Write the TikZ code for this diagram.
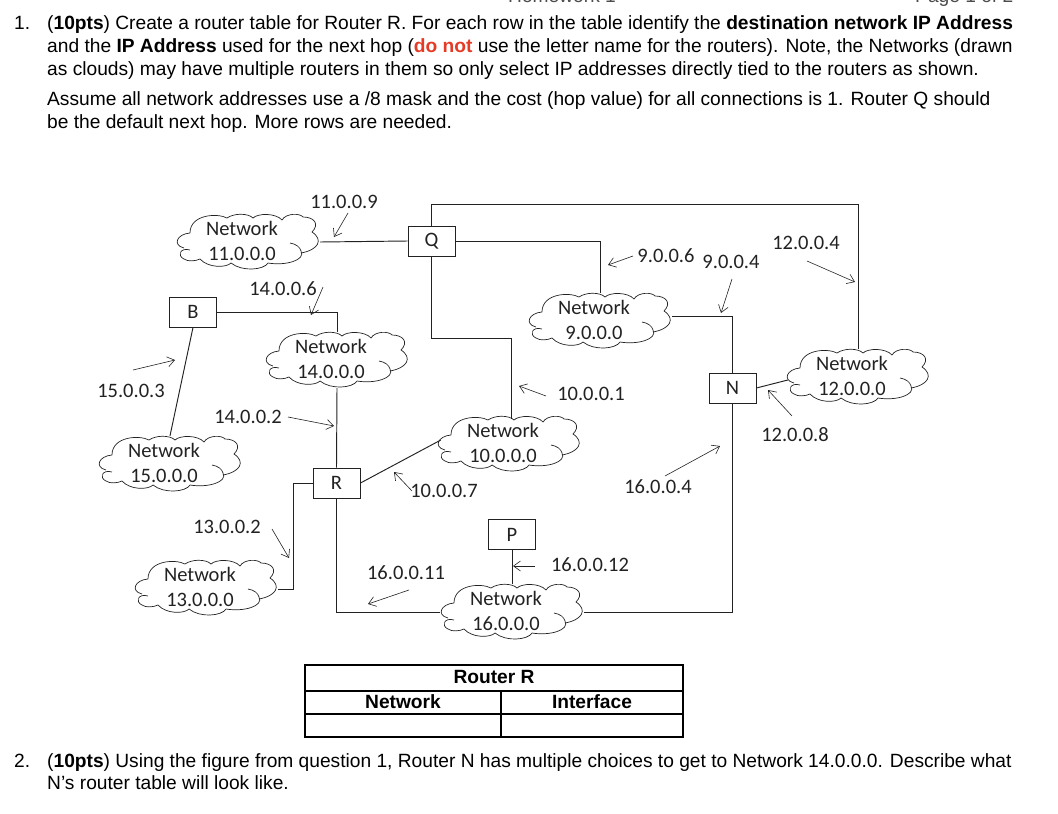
\documentclass[tikz,border=0pt]{standalone}
\usepackage{fontspec}
\usetikzlibrary{arrows.meta}
\setmainfont{Liberation Sans}
\newfontfamily\diagfont{Carlito}
\definecolor{redword}{HTML}{E53B26}
\definecolor{ink}{HTML}{222222}
\tikzset{
 x=1pt,y=-1pt,
 link/.style={draw=ink,line width=0.95pt},
 pointer/.style={draw=ink,line width=0.6pt,-{Straight Barb[length=7pt,width=10pt,line width=0.6pt]}},
 boxnode/.style={draw=ink,line width=0.95pt,fill=white,minimum width=47pt,minimum height=30pt,inner sep=0pt,font=\diagfont\fontsize{20.5}{22}\selectfont,text=ink},
 cloudbox/.style={minimum width=144pt,minimum height=56pt,inner sep=0pt},
 cloudtext/.style={align=center,inner sep=0pt,text=ink,font=\diagfont\fontsize{20.5}{25}\selectfont},
 iplabel/.style={inner sep=0pt,text=ink,font=\diagfont\fontsize{20.5}{25}\selectfont},
 body/.style={anchor=base west,inner sep=0pt,font=\fontsize{19.18}{22}\selectfont},
 tablecell/.style={draw=black,line width=2pt,inner sep=0pt,font=\bfseries\fontsize{19.18}{22}\selectfont},
 netcloud/.pic={
  \draw[ink,line width=0.7pt]
   (14,19) .. controls (1,20) and (-4,31) .. (8,34)
   (14,36) .. controls (4,33) and (1,42) .. (8,45) .. controls (12,48) and (20,47) .. (24,45)
     .. controls (32,54) and (50,54) .. (55,49) .. controls (66,58) and (88,56) .. (92,49)
     .. controls (110,52) and (130,46) .. (125,37) .. controls (124,33) and (120,30) .. (114,29)
   (125,39) .. controls (142,36) and (148,26) .. (136,18) .. controls (144,10) and (138,3) .. (127,3)
     .. controls (124,-1) and (110,-1) .. (106,6) .. controls (100,-1) and (82,-1) .. (77,4)
     .. controls (72,-1) and (58,-1) .. (51,4) .. controls (42,-1) and (14,0) .. (14,19);
 }
}
\newcommand\netcloud[4]{%
  \pic at (#2,#3) {netcloud};
  \node[cloudbox] (#1) at ({#2+72},{#3+28}) {};
  \node[cloudtext] (#1t) at ({#2+66},{#3+26.5}) {Network\\#4};
}
\newcommand\ptr[5]{%
  \coordinate (#1a) at (#2,#3);
  \coordinate (#1b) at (#4,#5);
  \draw[pointer] (#1a) -- (#1b);
}
\begin{document}
\begin{tikzpicture}
\useasboundingbox (0,0) rectangle (1058,814);
\clip (0,0) rectangle (1058,814);
% page header, cut by the top edge
\node[body,text=black!70] (h1) at (508,2) {Homework 1};
\node[body,text=black!70] (h2) at (915,2) {Page 1 of 2};
% question text
\node[body] (n1) at (14,29) {1.};
\node[body] (t1) at (47,29) {(\textbf{10pts}) Create a router table for Router R. For each row in the table identify the \textbf{destination network IP Address}};
\node[body] (t2) at (47,52) {and the \textbf{IP Address} used for the next hop (\textcolor{redword}{\textbf{do not}} use the letter name for the routers). Note, the Networks (drawn};
\node[body] (t3) at (47,75) {as clouds) may have multiple routers in them so only select IP addresses directly tied to the routers as shown.};
\node[body] (t4) at (47,105) {Assume all network addresses use a /8 mask and the cost (hop value) for all connections is 1.  Router Q should};
\node[body] (t5) at (47,128) {be the default next hop. More rows are needed.};
\node[body] (n2) at (14,767) {2.};
\node[body] (t6) at (47,767) {(\textbf{10pts}) Using the figure from question 1, Router N has multiple choices to get to Network 14.0.0.0. Describe what};
\node[body] (t7) at (47,789) {N's router table will look like.};
% clouds
\netcloud{c11}{176}{214}{11.0.0.0}
\netcloud{c14}{265}{332}{14.0.0.0}
\netcloud{c15}{98}{436}{15.0.0.0}
\netcloud{c13}{134}{560}{13.0.0.0}
\netcloud{c9}{528}{293}{9.0.0.0}
\netcloud{c12}{786}{349}{12.0.0.0}
\netcloud{c10}{437}{416}{10.0.0.0}
\netcloud{c16}{440}{584}{16.0.0.0}
% routers
\node[boxnode] (Q) at (431.5,241) {Q};
\node[boxnode] (B) at (193,312) {B};
\node[boxnode] (R) at (336.5,483) {R};
\node[boxnode] (N) at (732.5,388) {N};
\node[boxnode] (P) at (512,534.5) {P};
% links
\draw[link] (c11.east) -- (Q.west);
\draw[link] (Q.north) -- ++(0,-21) -| (c12.north);
\draw[link] (Q.east) -| (c9.north);
\draw[link] (Q.south) -- ++(0,82) -| ([xshift=2pt,yshift=-3pt]c10.north);
\draw[link] (B.east) -| (c14.north);
\draw[link] (B.south) -- (c15.north);
\draw[link] (c14.south) -- (R.north);
\draw[link] (R.west) -- ++(-19,0) |- ([yshift=-1pt]c13.east);
\draw[link] (R.east) -- ([xshift=4pt,yshift=4pt]c10.west);
\draw[link] (R.south) |- (c16.west);
\draw[link] (c16.east) -| (N.south);
\draw[link] ([yshift=5pt]c9.east) -| (N.north);
\draw[link] (N.east) -- ([xshift=2pt,yshift=-3pt]c12.west);
\draw[link] (P.south) -- (c16.north);
% pointers
\ptr{p1}{348}{213}{334}{237}
\ptr{p2}{323}{287}{311}{315}
\ptr{p3}{133}{370}{175}{360}
\ptr{p4}{288}{417}{334}{426}
\ptr{p5}{272}{529}{289}{558}
\ptr{p6}{412}{491}{394}{472}
\ptr{p7}{409}{590}{368}{604}
\ptr{p8}{633}{256}{608}{265}
\ptr{p9}{732}{279}{721}{313}
\ptr{p10}{807}{261}{855}{282}
\ptr{p11}{546}{396}{519}{386}
\ptr{p12}{792}{416}{768}{390}
\ptr{p13}{665}{476}{720}{446}
\ptr{p14}{535}{566}{513}{566}
% IP labels
\node[iplabel] (a1) at (344,202) {11.0.0.9};
\node[iplabel] (a2) at (283,289) {14.0.0.6};
\node[iplabel] (a3) at (131,391) {15.0.0.3};
\node[iplabel] (a4) at (248,417) {14.0.0.2};
\node[iplabel] (a5) at (227,527) {13.0.0.2};
\node[iplabel] (a6) at (406,573) {16.0.0.11};
\node[iplabel] (a7) at (444,491) {10.0.0.7};
\node[iplabel] (a8) at (591,394) {10.0.0.1};
\node[iplabel] (a9) at (666,256) {9.0.0.6};
\node[iplabel] (a10) at (731,262) {9.0.0.4};
\node[iplabel] (a11) at (806,243) {12.0.0.4};
\node[iplabel] (a12) at (795,435) {12.0.0.8};
\node[iplabel] (a13) at (658,487) {16.0.0.4};
\node[iplabel] (a14) at (590,565) {16.0.0.12};
% table
\node[tablecell,minimum width=378pt,minimum height=26pt] (th) at (494,678) {\raisebox{2.5pt}{Router R}};
\node[tablecell,minimum width=196pt,minimum height=23pt] (tn) at (403,702.5) {\raisebox{1.5pt}{Network}};
\node[tablecell,minimum width=182pt,minimum height=23pt] (ti) at (592,702.5) {\raisebox{1.5pt}{Interface}};
\node[tablecell,minimum width=196pt,minimum height=23pt] (tb1) at (403,725.5) {};
\node[tablecell,minimum width=182pt,minimum height=23pt] (tb2) at (592,725.5) {};
\end{tikzpicture}
\end{document}
